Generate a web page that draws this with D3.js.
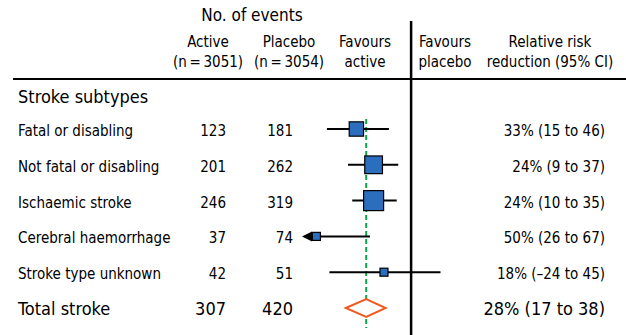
<!DOCTYPE html>
<html>
<head>
<meta charset="utf-8">
<script src="https://cdn.jsdelivr.net/npm/d3@7"></script>
<style>
  html, body { margin: 0; padding: 0; background: #fff; }
  svg { display: block; }
  text { font-family: "DejaVu Sans Condensed", "Liberation Sans Narrow", sans-serif; fill: #000; }
</style>
</head>
<body>
<svg id="chart" width="626" height="335"></svg>
<script>
// Stroke subtypes: events per arm and relative risk reduction (%) with 95% CI
const subtypes = ["Fatal or disabling", "Not fatal or disabling", "Ischaemic stroke", "Cerebral haemorrhage", "Stroke type unknown"];
const eventsActive = [123, 201, 246, 37, 42];
const eventsPlacebo = [181, 262, 319, 74, 51];
const rrr = [33, 24, 24, 50, 18];
const rrrLow = [15, 9, 10, 26, -24];
const rrrHigh = [46, 37, 35, 67, 45];

// Overall result
const totalLabel = "Total stroke";
const totalActive = 307;
const totalPlacebo = 420;
const totalRrr = 28;
const totalLow = 17;
const totalHigh = 38;

const nActive = 3051;
const nPlacebo = 3054;

const svg = d3.select("#chart");

// Relative risk = 1 - RRR; the CI bounds swap when converted
const rows = subtypes.map((name, i) => ({
  name,
  active: eventsActive[i],
  placebo: eventsPlacebo[i],
  rrr: rrr[i], low: rrrLow[i], high: rrrHigh[i],
  rr: 1 - rrr[i] / 100,
  rrLo: 1 - rrrHigh[i] / 100,
  rrHi: 1 - rrrLow[i] / 100
}));
const total = {
  name: totalLabel, active: totalActive, placebo: totalPlacebo,
  rrr: totalRrr, low: totalLow, high: totalHigh,
  rr: 1 - totalRrr / 100, rrLo: 1 - totalHigh / 100, rrHi: 1 - totalLow / 100
};

// Inverse-variance weight from the CI width on the log scale
rows.forEach(d => {
  const se = (Math.log(d.rrHi) - Math.log(d.rrLo)) / (2 * 1.96);
  d.weight = 1 / (se * se);
});

const x = d3.scaleLog().domain([0.45, 1.31]).range([302, 448]);
const y = d3.scalePoint().domain([...subtypes, totalLabel]).range([129, 308]);
const side = d3.scaleSqrt().domain([0, d3.max(rows, d => d.weight)]).range([0, 20]);

const fmt = v => (v < 0 ? "\u2013" + Math.abs(v) : String(v));
const rrrText = d => `${d.rrr}% (${fmt(d.low)} to ${fmt(d.high)})`;

const colActive = 226, colPlacebo = 293, colRrr = 605, labelX = 18;

// Column headings
const head = svg.append("g");
head.append("text").attr("x", 252).attr("y", 21).attr("text-anchor", "middle")
  .style("font-size", "17px").text("No. of events");
[["Active", nActive, 208], ["Placebo", nPlacebo, 289]].forEach(([t, n, cx]) => {
  head.append("text").attr("x", cx).attr("y", 47).attr("text-anchor", "middle")
    .style("font-size", "15px").text(t);
  head.append("text").attr("x", cx).attr("y", 67).attr("text-anchor", "middle")
    .style("font-size", "15px").text(`(n\u2009=\u2009${n})`);
});
[["Favours", "active", 365], ["Favours", "placebo", 445], ["Relative risk", "reduction (95% CI)", 550]].forEach(([a, b, cx]) => {
  head.append("text").attr("x", cx).attr("y", 47).attr("text-anchor", "middle")
    .style("font-size", "15px").text(a);
  head.append("text").attr("x", cx).attr("y", 67).attr("text-anchor", "middle")
    .style("font-size", "15px").text(b);
});

// Rules
svg.append("line").attr("x1", 13).attr("x2", 626).attr("y1", 79).attr("y2", 79)
  .attr("stroke", "#000").attr("stroke-width", 2);
svg.append("line").attr("x1", x(1)).attr("x2", x(1)).attr("y1", 21).attr("y2", 335)
  .attr("stroke", "#000").attr("stroke-width", 2.5);

// Overall effect reference line
svg.append("line").attr("x1", x(total.rr)).attr("x2", x(total.rr)).attr("y1", 119).attr("y2", 328)
  .attr("stroke", "#12a04a").attr("stroke-width", 2).attr("stroke-dasharray", "5,3");

svg.append("text").attr("x", labelX).attr("y", 103).style("font-size", "18px").text("Stroke subtypes");

// Subtype rows
const g = svg.append("g").selectAll("g").data(rows).join("g")
  .attr("transform", d => `translate(0,${y(d.name)})`);

g.append("text").attr("x", labelX).attr("y", 7).style("font-size", "15px").text(d => d.name);
g.append("text").attr("x", colActive).attr("y", 7).attr("text-anchor", "end").style("font-size", "15px").text(d => d.active);
g.append("text").attr("x", colPlacebo).attr("y", 7).attr("text-anchor", "end").style("font-size", "15px").text(d => d.placebo);
g.append("text").attr("x", colRrr).attr("y", 7).attr("text-anchor", "end").style("font-size", "15px").text(rrrText);

const [xMin, xMax] = x.domain();
const arrowLen = 10;
g.append("line")
  .attr("x1", d => d.rrLo < xMin ? x(xMin) + arrowLen : x(d.rrLo))
  .attr("x2", d => x(Math.min(d.rrHi, xMax)))
  .attr("stroke", "#000").attr("stroke-width", 2);
g.filter(d => d.rrLo < xMin).append("path")
  .attr("d", `M${x(xMin)},0 L${x(xMin) + arrowLen},-5 L${x(xMin) + arrowLen},5 Z`)
  .attr("fill", "#000");
g.append("rect")
  .attr("x", d => x(d.rr) - side(d.weight) / 2)
  .attr("y", d => -side(d.weight) / 2)
  .attr("width", d => side(d.weight))
  .attr("height", d => side(d.weight))
  .attr("fill", "#2a6ebd").attr("stroke", "#000").attr("stroke-width", 1.2);

// Total row
const ty = y(totalLabel);
svg.append("text").attr("x", labelX).attr("y", ty + 7).style("font-size", "18px").text(total.name);
svg.append("text").attr("x", colActive).attr("y", ty + 7).attr("text-anchor", "end").style("font-size", "18px").text(total.active);
svg.append("text").attr("x", colPlacebo).attr("y", ty + 7).attr("text-anchor", "end").style("font-size", "18px").text(total.placebo);
svg.append("text").attr("x", colRrr).attr("y", ty + 7).attr("text-anchor", "end").style("font-size", "18px").text(rrrText(total));
svg.append("path")
  .attr("d", `M${x(total.rrLo)},${ty} L${x(total.rr)},${ty - 9} L${x(total.rrHi)},${ty} L${x(total.rr)},${ty + 9} Z`)
  .attr("fill", "#fff").attr("stroke", "#f05a23").attr("stroke-width", 2);
</script>
</body>
</html>
